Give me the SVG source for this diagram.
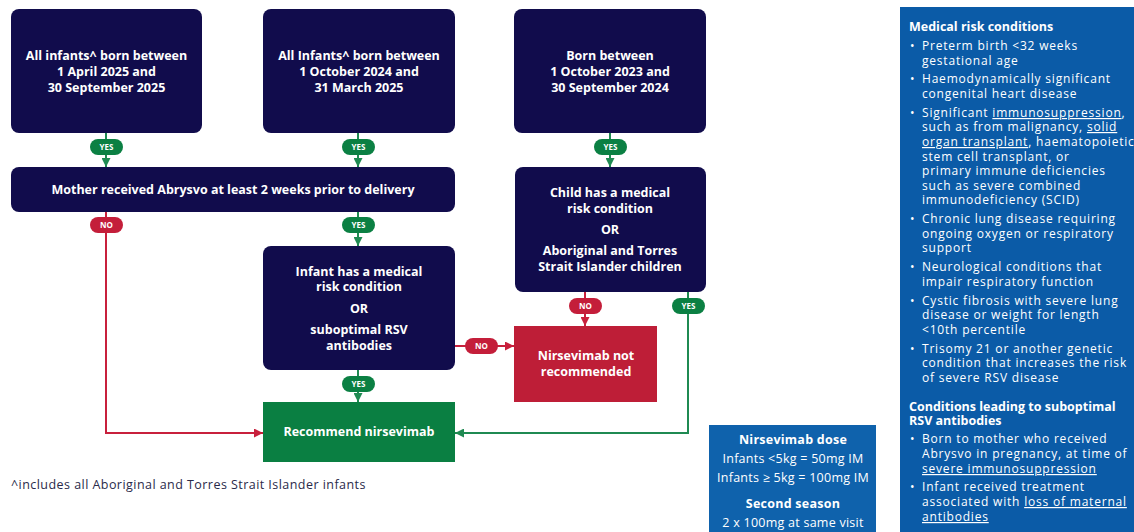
<svg xmlns="http://www.w3.org/2000/svg" width="1134" height="532" viewBox="0 0 1134 532">
<style>
.nav{fill:#110c4c}
.t{font-family:"Open Sans","Liberation Sans",sans-serif;font-weight:bold;font-size:12.5px;fill:#fff;text-anchor:middle}
.pill{font-family:"Open Sans","Liberation Sans",sans-serif;font-weight:bold;font-size:8px;fill:#fff;text-anchor:middle}
.gp{fill:#0b8043}
.rp{fill:#c41e3a}
.gl{stroke:#1f8a52;stroke-width:2;fill:none}
.rl{stroke:#c8203c;stroke-width:2;fill:none}
.p{font-family:"Open Sans","Liberation Sans",sans-serif;font-size:12px;letter-spacing:0.8px;fill:#fff}
.pb{font-family:"Open Sans","Liberation Sans",sans-serif;font-size:12.5px;font-weight:bold;fill:#fff}
.u{text-decoration:underline}
.d{font-family:"Open Sans","Liberation Sans",sans-serif;font-size:12.5px;letter-spacing:0.25px;fill:#fff;text-anchor:middle}
</style>
<defs>
<marker id="ag" viewBox="0 0 10 10" refX="10" refY="5" markerWidth="4.5" markerHeight="4.5" orient="auto"><path d="M0,0L10,5L0,10z" fill="#1f8a52"/></marker>
<marker id="ar" viewBox="0 0 10 10" refX="10" refY="5" markerWidth="4.5" markerHeight="4.5" orient="auto"><path d="M0,0L10,5L0,10z" fill="#c8203c"/></marker>
</defs>
<rect width="1134" height="532" fill="#fff"/>

<g id="connectors">
<path class="gl" d="M106,133V167" marker-end="url(#ag)"/>
<path class="gl" d="M358,133V167" marker-end="url(#ag)"/>
<path class="gl" d="M610,133V167" marker-end="url(#ag)"/>
<path class="gl" d="M358,212V246" marker-end="url(#ag)"/>
<path class="gl" d="M358,370V402" marker-end="url(#ag)"/>
<path class="rl" d="M106,212V433H263" marker-end="url(#ar)"/>
<path class="rl" d="M455,346H514" marker-end="url(#ar)"/>
<path class="rl" d="M585,292V326" marker-end="url(#ar)"/>
<path class="gl" d="M688,292V433H455" marker-end="url(#ag)"/>
<g>
<rect class="gp" x="90" y="139" width="33" height="16" rx="8"/><text class="pill" x="106.5" y="150">YES</text>
<rect class="gp" x="342" y="139" width="33" height="16" rx="8"/><text class="pill" x="358.5" y="150">YES</text>
<rect class="gp" x="594" y="139" width="33" height="16" rx="8"/><text class="pill" x="610.5" y="150">YES</text>
<rect class="rp" x="90" y="217" width="33" height="16" rx="8"/><text class="pill" x="106.5" y="228">NO</text>
<rect class="gp" x="342" y="217" width="33" height="16" rx="8"/><text class="pill" x="358.5" y="228">YES</text>
<rect class="gp" x="342" y="376" width="33" height="16" rx="8"/><text class="pill" x="358.5" y="387">YES</text>
<rect class="rp" x="465" y="338" width="33" height="16" rx="8"/><text class="pill" x="481.5" y="349">NO</text>
<rect class="rp" x="569" y="298" width="33" height="16" rx="8"/><text class="pill" x="585.5" y="309">NO</text>
<rect class="gp" x="672" y="298" width="33" height="16" rx="8"/><text class="pill" x="688.5" y="309">YES</text>
</g>
</g>

<g id="box1"><rect class="nav" x="11" y="9" width="191" height="124" rx="8"/>
<text class="t" x="106.5" y="60">All infants^ born between</text>
<text class="t" x="106.5" y="76">1 April 2025 and</text>
<text class="t" x="106.5" y="92">30 September 2025</text></g>

<g id="box2"><rect class="nav" x="263" y="9" width="192" height="124" rx="8"/>
<text class="t" x="359" y="60">All Infants^ born between</text>
<text class="t" x="359" y="76">1 October 2024 and</text>
<text class="t" x="359" y="92">31 March 2025</text></g>

<g id="box3"><rect class="nav" x="514" y="9" width="192" height="124" rx="8"/>
<text class="t" x="610" y="60">Born between</text>
<text class="t" x="610" y="76">1 October 2023 and</text>
<text class="t" x="610" y="92">30 September 2024</text></g>

<g id="mother"><rect class="nav" x="11" y="167" width="444" height="45" rx="8"/>
<text class="t" x="233" y="194">Mother received Abrysvo at least 2 weeks prior to delivery</text></g>

<g id="child"><rect class="nav" x="515" y="167" width="191" height="125" rx="8"/>
<text class="t" x="610" y="197">Child has a medical</text>
<text class="t" x="610" y="213">risk condition</text>
<text class="t" x="610" y="234">OR</text>
<text class="t" x="610" y="255">Aboriginal and Torres</text>
<text class="t" x="610" y="271">Strait Islander children</text></g>

<g id="infant"><rect class="nav" x="263" y="246" width="192" height="124" rx="8"/>
<text class="t" x="359" y="276">Infant has a medical</text>
<text class="t" x="359" y="291">risk condition</text>
<text class="t" x="359" y="313">OR</text>
<text class="t" x="359" y="334">suboptimal RSV</text>
<text class="t" x="359" y="350">antibodies</text></g>

<g id="notrec"><rect x="514" y="326" width="143" height="76" fill="#be1e37"/>
<text class="t" x="586" y="360">Nirsevimab not</text>
<text class="t" x="586" y="376">recommended</text></g>

<g id="recommend"><rect x="263" y="402" width="192" height="60" fill="#0a7f42"/>
<text class="t" x="359" y="436">Recommend nirsevimab</text></g>

<g id="footnote"><text x="11" y="489" font-family="'Open Sans','Liberation Sans',sans-serif" font-size="12.5" letter-spacing="0.45" fill="#2a2a4a">^includes all Aboriginal and Torres Strait Islander infants</text></g>

<g id="dose"><rect x="709" y="425" width="167" height="107" fill="#0f62ac"/>
<text class="d" x="793" y="444" font-weight="bold">Nirsevimab dose</text>
<text class="d" x="793" y="463">Infants &lt;5kg = 50mg IM</text>
<text class="d" x="793" y="482">Infants ≥ 5kg = 100mg IM</text>
<text class="d" x="793" y="508" font-weight="bold">Second season</text>
<text class="d" x="793" y="527">2 x 100mg at same visit</text></g>

<g id="panel"><rect x="900" y="7" width="234" height="525" fill="#0b5ba7"/>
<text class="pb" x="909" y="31">Medical risk conditions</text>
<text class="p" x="910" y="50">•</text>
<text class="p" x="922" y="50">Preterm birth &lt;32 weeks</text>
<text class="p" x="922" y="65">gestational age</text>
<text class="p" x="910" y="83">•</text>
<text class="p" x="922" y="83">Haemodynamically significant</text>
<text class="p" x="922" y="98">congenital heart disease</text>
<text class="p" x="910" y="117">•</text>
<text class="p" x="922" y="117">Significant <tspan class="u">immunosuppression</tspan>,</text>
<text class="p" x="922" y="131">such as from malignancy, <tspan class="u">solid </tspan></text>
<text class="p" x="922" y="146"><tspan class="u">organ transplant</tspan>, haematopoietic</text>
<text class="p" x="922" y="161">stem cell transplant, or</text>
<text class="p" x="922" y="175">primary immune deficiencies</text>
<text class="p" x="922" y="190">such as severe combined</text>
<text class="p" x="922" y="204">immunodeficiency (SCID)</text>
<text class="p" x="910" y="223">•</text>
<text class="p" x="922" y="223">Chronic lung disease requiring</text>
<text class="p" x="922" y="238">ongoing oxygen or respiratory</text>
<text class="p" x="922" y="252">support</text>
<text class="p" x="910" y="271">•</text>
<text class="p" x="922" y="271">Neurological conditions that</text>
<text class="p" x="922" y="286">impair respiratory function</text>
<text class="p" x="910" y="305">•</text>
<text class="p" x="922" y="305">Cystic fibrosis with severe lung</text>
<text class="p" x="922" y="319">disease or weight for length</text>
<text class="p" x="922" y="334">&lt;10th percentile</text>
<text class="p" x="910" y="353">•</text>
<text class="p" x="922" y="353">Trisomy 21 or another genetic</text>
<text class="p" x="922" y="367">condition that increases the risk</text>
<text class="p" x="922" y="382">of severe RSV disease</text>
<text class="pb" x="909" y="411">Conditions leading to suboptimal</text>
<text class="pb" x="909" y="425">RSV antibodies</text>
<text class="p" x="910" y="443">•</text>
<text class="p" x="922" y="443">Born to mother who received</text>
<text class="p" x="922" y="458">Abrysvo in pregnancy, at time of</text>
<text class="p" x="922" y="473"><tspan class="u">severe immunosuppression</tspan></text>
<text class="p" x="910" y="491">•</text>
<text class="p" x="922" y="491">Infant received treatment</text>
<text class="p" x="922" y="506">associated with <tspan class="u">loss of maternal </tspan></text>
<text class="p" x="922" y="521"><tspan class="u">antibodies</tspan></text>
</g>
</svg>
